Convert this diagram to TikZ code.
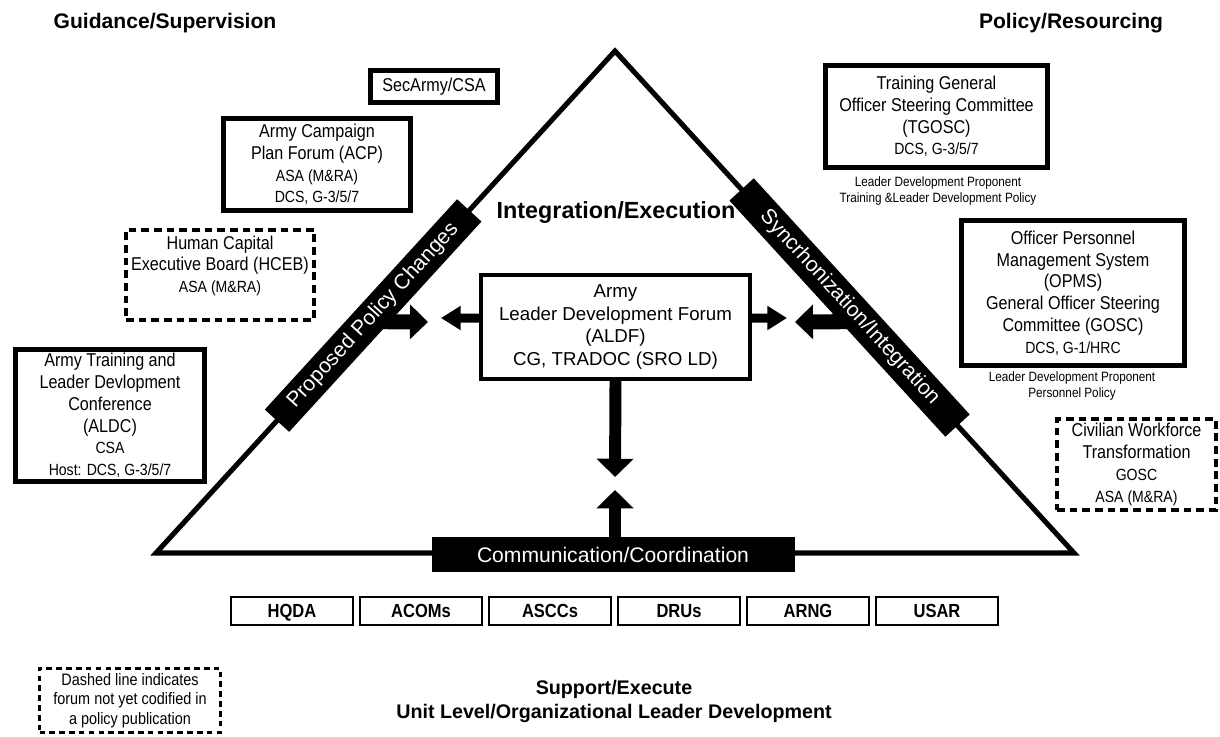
\documentclass[tikz,border=0pt]{standalone}
\usepackage{fontspec}
\setmainfont{Liberation Sans}
\newfontfamily\cnd{Liberation Sans}[FakeStretch=0.87]
\usetikzlibrary{arrows.meta,calc}

\newcommand{\pxl}{0.025cm}
\newcommand{\sm}{\fontsize{11.5}{13.5}\selectfont}

\tikzset{
	forum/.style={draw, line width=3.5pt, align=center, inner sep=0pt,
		font=\cnd\fontsize{13.2}{15.5}\selectfont},
	pending/.style={forum, line width=2.8pt, dash pattern=on 5.5pt off 3.5pt},
	band/.style={fill=black, text=white, inner sep=0pt, minimum height=33*\pxl,
		font=\fontsize{15}{18}\selectfont},
	unit/.style={draw, line width=1.2pt, inner sep=0pt, minimum width=122*\pxl,
		minimum height=28*\pxl, text height=9.6pt, text depth=0pt,
		font=\cnd\bfseries\fontsize{13.5}{15}\selectfont},
	heading/.style={font=\bfseries\fontsize{15}{18}\selectfont},
	note/.style={align=center, inner sep=0pt, font=\cnd\fontsize{9.6}{11}\selectfont},
	fatarrow/.style={line width=10.7pt, -{Triangle[length=12.8pt, width=24pt]}},
	stemarrow/.style={line width=8.5pt, -{Triangle[length=13pt, width=25.6pt]}},
	sidearrow/.style={line width=6.4pt, -{Triangle[length=14pt, width=16.4pt]}},
}

\begin{document}
\begin{tikzpicture}[x=0.025cm, y=-0.025cm]
	\fill [white] (0, 0) rectangle (1220, 736);
	\useasboundingbox (0, 0) rectangle (1220, 736);

	% triangle
	\coordinate (apex) at (615, 51);
	\coordinate (bl) at (156, 553);
	\coordinate (br) at (1074, 553);
	\draw [line width=3.6pt] (apex) -- (bl) -- (br) -- cycle;

	% headings
	\node[heading] (guid) at (165, 23) {Guidance/Supervision};
	\node[heading] (pol) at (1071, 23) {Policy/Resourcing};
	\node[font=\bfseries\fontsize{16.6}{20}\selectfont] (integ) at (616, 213) {Integration/Execution};

	% left side forums
	\node[forum, minimum width=127*\pxl, minimum height=32*\pxl] (sec) at (434, 86.5) {SecArmy/CSA};
	\node[forum, minimum width=187*\pxl, minimum height=92*\pxl] (acp) at (317, 164.5)
		{Army Campaign\\Plan Forum (ACP)\\\sm ASA (M\&RA)\\\sm DCS, G-3/5/7};
	\node[pending, minimum width=188*\pxl, minimum height=90*\pxl] (hceb) at (220, 275)
		{Human Capital\\Executive Board (HCEB)\\\sm ASA (M\&RA)\\\mbox{}};
	\node[forum, minimum width=189*\pxl, minimum height=132*\pxl] (aldc) at (110, 415.5)
		{Army Training and\\Leader Devlopment\\Conference\\(ALDC)\\\sm CSA\\\sm Host: DCS, G-3/5/7};

	% right side forums
	\node[forum, minimum width=222*\pxl, minimum height=102*\pxl] (tgosc) at (936.5, 116.5)
		{Training General\\Officer Steering Committee\\(TGOSC)\\\sm DCS, G-3/5/7};
	\node[note] (tgoscNote) at (938, 191) {Leader Development Proponent\\Training \&Leader Development Policy};
	\node[forum, minimum width=223*\pxl, minimum height=145*\pxl] (opms) at (1073, 293)
		{Officer Personnel\\Management System\\(OPMS)\\General Officer Steering\\Committee (GOSC)\\\sm DCS, G-1/HRC};
	\node[note] (opmsNote) at (1072, 386) {Leader Development Proponent\\Personnel Policy};
	\node[pending, minimum width=159*\pxl, minimum height=91*\pxl] (civ) at (1136.5, 464.5)
		{Civilian Workforce\\Transformation\\\sm GOSC\\\sm ASA (M\&RA)};

	% center forum
	\node[draw, line width=3pt, align=center, inner sep=0pt, minimum width=269*\pxl, minimum height=104*\pxl,
		font=\fontsize{13.3}{16.1}\selectfont] (aldf) at (615.5, 327)
		{Army\\Leader Development Forum\\(ALDF)\\CG, TRADOC (SRO LD)};

	% arrows (under the bands)
	\path (bl) -- (apex) coordinate[pos=0.461] (pcFoot);
	\path (apex) -- (br) coordinate[pos=0.539] (siFoot);
	\coordinate (pcTip) at (428, 322);
	\coordinate (siTip) at (795, 322);
	\coordinate (aldfL) at (441, 318);
	\coordinate (aldfR) at (787, 318);
	\coordinate (downTip) at (615, 477);
	\coordinate (upTip) at (615, 490);
	\draw[fatarrow] (pcFoot) -- (pcTip);
	\draw[fatarrow] (siFoot) -- (siTip);
	\draw[sidearrow] ([yshift=6.4pt]aldf.west) -- (aldfL);
	\draw[sidearrow] ([yshift=6.4pt]aldf.east) -- (aldfR);
	\draw[stemarrow] (aldf.south) -- (downTip);

	% bands
	\path (bl) -- (apex) node[band, sloped, pos=0.473, minimum width=285*\pxl] (pcBand) {Proposed Policy Changes};
	\path (apex) -- (br) node[band, sloped, pos=0.511, minimum width=320*\pxl] (siBand) {Syncrhonization/Integration};
	\node[band, minimum width=363*\pxl, minimum height=35*\pxl] (comm) at (613, 554.5) {Communication/Coordination};
	\draw[stemarrow] (upTip |- comm.north) -- (upTip);

	% units
	\foreach \lbl [count=\i] in {HQDA, ACOMs, ASCCs, DRUs, ARNG, USAR}
		\node[unit] (unit\i) at ({292 + 129*(\i-1)}, 611) {\lbl};

	% bottom text and legend
	\node[align=center, font=\bfseries\fontsize{14}{17}\selectfont] (supp) at (614, 701)
		{Support/Execute\\Unit Level/Organizational Leader Development};
	\node[pending, line width=2pt, dash pattern=on 4pt off 3pt, minimum width=181*\pxl, minimum height=64*\pxl,
		font=\cnd\fontsize{11.8}{13.8}\selectfont] (legend) at (130, 700.5)
		{Dashed line indicates\\forum not yet codified in\\a policy publication};
\end{tikzpicture}
\end{document}
